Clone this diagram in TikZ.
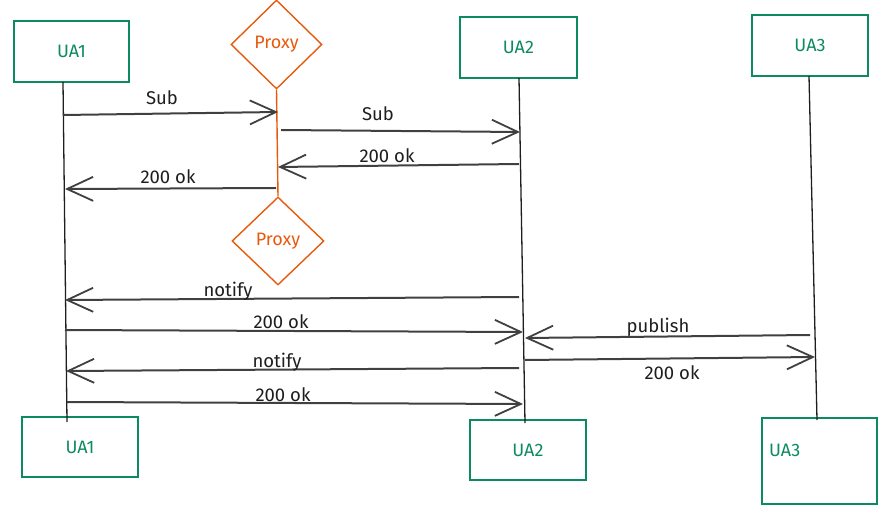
\documentclass[tikz,border=0pt]{standalone}
\usepackage{fontspec}
\setmainfont{Fira Sans}
\usetikzlibrary{arrows.meta,shapes.geometric}
\definecolor{uagreen}{HTML}{0C8A62}
\definecolor{proxyorange}{HTML}{E8590C}
\definecolor{ink}{HTML}{1E1E1E}
\tikzset{
  uabox/.style={draw=uagreen, line width=1.4pt, text=uagreen, minimum width=#1, inner sep=0pt, font=\fontsize{18}{21}\selectfont},
  proxybox/.style={draw=proxyorange, shape=diamond, line width=1.4pt, text=proxyorange, inner sep=0pt, minimum width=91pt, minimum height=89pt, font=\fontsize{18}{21}\selectfont},
  lifeline/.style={draw=ink, line width=1.3pt},
  proxyline/.style={draw=proxyorange, line width=1.4pt},
  msg/.style={draw=ink!85, line width=2pt, -{Straight Barb[length=26pt,width=24pt,line width=1.8pt]}},
  msglabel/.style={text=ink, inner sep=0pt, font=\fontsize{18.5}{21}\selectfont}
}
\begin{document}
\begin{tikzpicture}[x=1pt,y=-1pt]
\useasboundingbox (0,0) rectangle (896,510);
% participant boxes, top
\node[uabox=115pt, minimum height=61pt] (ua1t) at (71.5,51.5) {UA1};
\node[uabox=117pt, minimum height=61pt] (ua2t) at (518.5,47.5) {UA2};
\node[uabox=116pt, minimum height=61pt] (ua3t) at (810,45.5) {UA3};
\node[proxybox] (px1) at (276.5,44.5) {Proxy};
% participant boxes, bottom
\node[uabox=116pt, minimum height=60pt] (ua1b) at (80,447) {UA1};
\node[uabox=116pt, minimum height=60pt] (ua2b) at (528,450) {UA2};
\node[draw=uagreen, line width=1.4pt, minimum width=115pt, minimum height=86pt, inner sep=0pt] (ua3b) at (819.5,461) {};
\node[text=uagreen, anchor=west, inner sep=0pt, font=\fontsize{18}{21}\selectfont] (ua3bt) at (769,450) {UA3};
\node[proxybox, minimum width=92pt, minimum height=88pt] (px2) at (278,241) {Proxy};
% lifeline end points
\coordinate (l1t) at (63,82);
\coordinate (l1b) at (67,422);
\coordinate (l2t) at (519,78);
\coordinate (l2b) at (525,423);
\coordinate (l3t) at (809,76);
\coordinate (l3b) at (817,420);
\draw[lifeline] (l1t) -- (l1b);
\draw[lifeline] (l2t) -- (l2b);
\draw[lifeline] (l3t) -- (l3b);
\draw[proxyline] (px1.south) -- (px2.north);
% message end points
\coordinate (m1a) at (63,115);  \coordinate (m1b) at (278,112);
\coordinate (m2a) at (281,130); \coordinate (m2b) at (520,132);
\coordinate (m3a) at (519,164); \coordinate (m3b) at (278,167);
\coordinate (m4a) at (276,188); \coordinate (m4b) at (65,189);
\coordinate (m5a) at (519,297); \coordinate (m5b) at (65,300);
\coordinate (m6a) at (65,330);  \coordinate (m6b) at (523,332);
\coordinate (m7a) at (810,335); \coordinate (m7b) at (525,338);
\coordinate (m8a) at (525,360); \coordinate (m8b) at (815,357);
\coordinate (m9a) at (519,368); \coordinate (m9b) at (66,371);
\coordinate (m10a) at (67,402); \coordinate (m10b) at (523,404);
\draw[msg] (m1a) -- (m1b);
\draw[msg] (m2a) -- (m2b);
\draw[msg] (m3a) -- (m3b);
\draw[msg] (m4a) -- (m4b);
\draw[msg] (m5a) -- (m5b);
\draw[msg] (m6a) -- (m6b);
\draw[msg] (m7a) -- (m7b);
\draw[msg] (m8a) -- (m8b);
\draw[msg] (m9a) -- (m9b);
\draw[msg] (m10a) -- (m10b);
% message labels
\node[msglabel] (t1) at (162,98) {Sub};
\node[msglabel] (t2) at (378,114) {Sub};
\node[msglabel] (t3) at (387,156) {200 ok};
\node[msglabel] (t4) at (168,177) {200 ok};
\node[msglabel] (t5) at (228,291) {notify};
\node[msglabel] (t6) at (281,322) {200 ok};
\node[msglabel] (t7) at (658,327) {publish};
\node[msglabel] (t8) at (672,373) {200 ok};
\node[msglabel] (t9) at (277,362) {notify};
\node[msglabel] (t10) at (283,395) {200 ok};
\end{tikzpicture}
\end{document}
